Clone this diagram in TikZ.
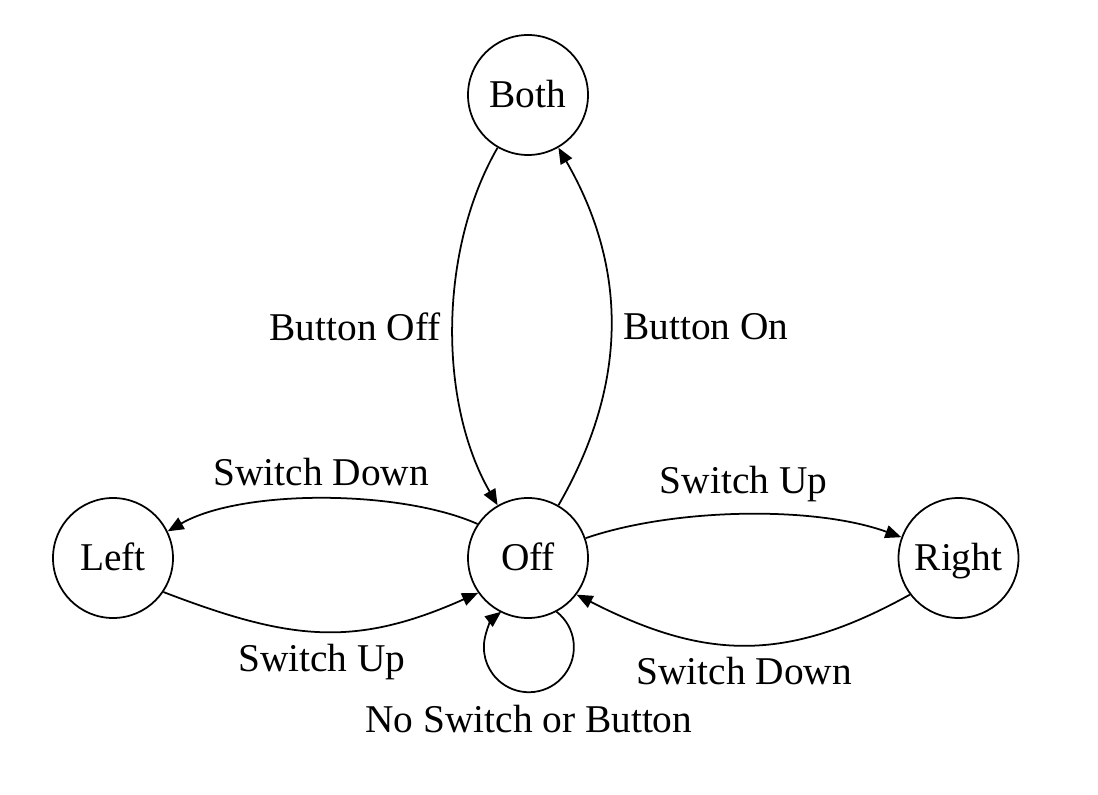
\documentclass[tikz,border=0pt]{standalone}
\usepackage{fontspec}
\setmainfont{Liberation Serif}
\usetikzlibrary{arrows.meta}

\begin{document}
\begin{tikzpicture}
  [stateN/.style={circle,draw,minimum size=1.2cm,inner sep=0pt,fill=white,
                  text height=1.5ex,text depth=0pt},
   transE/.style={draw,-{Triangle[length=1.6mm,width=1.3mm]}},
   font=\fontsize{11.2pt}{13pt}\selectfont,
   line width=0.5pt]

  \useasboundingbox (-5.28,-2.36) rectangle (5.70,5.58);

  \node[stateN] (off)   at (0,0)      {Off};
  \node[stateN] (both)  at (0,4.63)   {Both};
  \node[stateN] (left)  at (-4.15,0)  {Left};
  \node[stateN] (right) at (4.305,0)  {Right};

  % button
  \draw [transE] (both.240) to[out=240,in=120,looseness=0.85] node[left]  {Button Off} (off.120);
  \draw [transE] (off.60)   to[out=60,in=-60,looseness=1.0]   node[right] {Button On}  (both.-60);

  % switch
  \draw [transE] (off.146)  to[out=156,in=30,looseness=0.7]   node[above] {Switch Down} (left.26);
  \draw [transE] (left.-34) to[out=-21,in=204,looseness=1.1]  node[below] {Switch Up}   (off.215);
  \draw [transE] (off.19)   to[out=19,in=160,looseness=0.75]  node[above] {Switch Up}   (right.160);
  \draw [transE] (right.217) to[out=209,in=-27,looseness=1.1] node[below] {Switch Down} (off.-37);

  % nothing
  \draw [transE] (off.-62) arc[start angle=52,end angle=-232,radius=0.45]
    node[pos=0.5,below] {No Switch or Button};
\end{tikzpicture}
\end{document}
